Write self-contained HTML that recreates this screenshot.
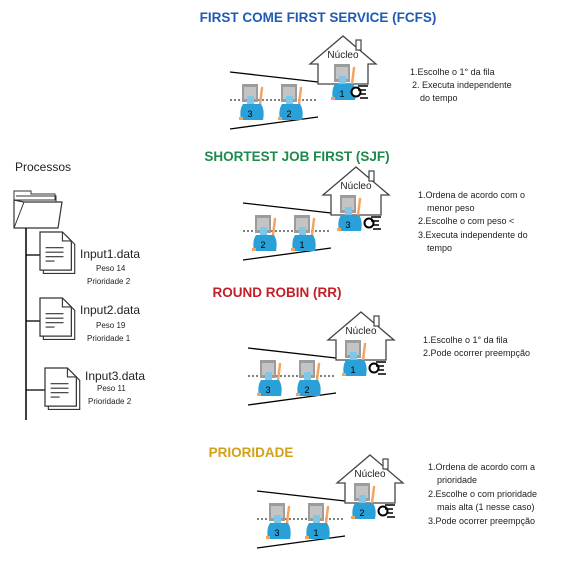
<!DOCTYPE html>
<html><head><meta charset="utf-8"><style>
body{margin:0;background:#fff}
svg{display:block}
text{font-family:"Liberation Sans","DejaVu Sans",sans-serif}
</style></head><body>
<svg width="569" height="562" viewBox="0 0 569 562" xmlns="http://www.w3.org/2000/svg">
<defs>
<g id="p">
 <path d="M19 20 l2 -16" stroke="#f4a460" stroke-width="2.5" stroke-linecap="round"/>
 <path d="M2 20 q-4 6 -2 16 h22 q2 -10 -2 -16z" fill="#2aa0d8"/>
 <rect x="1" y="0" width="16" height="18" fill="#9c9c9c"/>
 <rect x="3" y="3" width="12" height="12" fill="#c4c4c4"/>
 <rect x="6" y="12" width="7" height="8" fill="#7fc6e8"/>
 <rect x="-2" y="33" width="4" height="3" fill="#f4a460"/>
</g>
<g id="house">
 <path d="M0 28 L33 0 L66 28 L58 28 L58 48 L8 48 L8 28 Z" fill="#fff" stroke="#444" stroke-width="1.3"/>
 <rect x="46" y="4" width="5" height="10" fill="#fff" stroke="#444" stroke-width="1.2"/>
</g>
<g id="hand">
 <circle cx="4" cy="4" r="4.5" fill="#fff" stroke="#000" stroke-width="2"/>
 <path d="M6 -2 h10 M6 2 h8 M8 6 h6 M8 10 h8" stroke="#000" stroke-width="1.6"/>
</g>
<g id="doc">
 <path d="M3 3 h20 l8 8 v26 h-28z" fill="#fff" stroke="#333" stroke-width="1"/>
 <path d="M0 0 h20 l8 8 v26 h-28z" fill="#fff" stroke="#333" stroke-width="1.1"/>
 <path d="M20 0 v8 h8" fill="none" stroke="#333"/>
 <path d="M5 14 h16 M5 18 h16 M5 22 h16 M5 26 h8" stroke="#333" stroke-width="1"/>
</g>
</defs>

<!-- Left -->
<text x="15" y="171" font-size="12" fill="#222">Processos</text>
<path d="M14 191 h17 v3 h24 v6 h-41z" fill="#fff" stroke="#333"/>
<path d="M16 196 h40 v6" fill="none" stroke="#333"/>
<path d="M14 200 v28 h44 l4 -26 h-38 z" fill="#fff" stroke="#333" stroke-width="1.2"/>
<path d="M14 228 l10 -26" stroke="#333"/>
<line x1="26" y1="228" x2="26" y2="420" stroke="#000" stroke-width="1.5"/>
<line x1="26" y1="255" x2="40" y2="255" stroke="#000" stroke-width="1.3"/>
<line x1="26" y1="321" x2="40" y2="321" stroke="#000" stroke-width="1.3"/>
<line x1="26" y1="390" x2="45" y2="390" stroke="#000" stroke-width="1.3"/>
<use href="#doc" transform="translate(40,232) scale(1.12)"/>
<use href="#doc" transform="translate(40,298) scale(1.12)"/>
<use href="#doc" transform="translate(45,368) scale(1.12)"/>
<text x="80" y="258" font-size="12" fill="#222">Input1.data</text>
<text x="96" y="271" font-size="8" fill="#222">Peso 14</text>
<text x="87" y="284" font-size="8" fill="#222">Prioridade 2</text>
<text x="80" y="314" font-size="12" fill="#222">Input2.data</text>
<text x="96" y="328" font-size="8" fill="#222">Peso 19</text>
<text x="87" y="341" font-size="8" fill="#222">Prioridade 1</text>
<text x="85" y="380" font-size="12" fill="#222">Input3.data</text>
<text x="97" y="391" font-size="8" fill="#222">Peso 11</text>
<text x="88" y="404" font-size="8" fill="#222">Prioridade 2</text>

<!-- FCFS -->
<text x="318" y="22" font-size="13.5" font-weight="bold" fill="#1f5bb5" text-anchor="middle">FIRST COME FIRST SERVICE (FCFS)</text>
<g>
 <line x1="230" y1="72" x2="318" y2="82" stroke="#000" stroke-width="1.3"/>
 <line x1="230" y1="129" x2="318" y2="117" stroke="#000" stroke-width="1.3"/>
 <line x1="230" y1="100" x2="318" y2="100" stroke="#000" stroke-dasharray="2,2"/>
 <use href="#house" x="310" y="36"/>
 <text x="343" y="58" font-size="10" text-anchor="middle" fill="#222">Núcleo</text>
 <use href="#p" x="333" y="64"/><text x="342" y="97" font-size="9" text-anchor="middle">1</text>
 <use href="#p" x="241" y="84"/><text x="250" y="117" font-size="9" text-anchor="middle">3</text>
 <use href="#p" x="280" y="84"/><text x="289" y="117" font-size="9" text-anchor="middle">2</text>
 <use href="#hand" x="352" y="88"/>
 <text x="410" y="75" font-size="9" fill="#222">1.Escolhe o 1° da fila</text>
 <text x="412" y="88" font-size="9" fill="#222">2. Executa independente</text>
 <text x="420" y="101" font-size="9" fill="#222">do tempo</text>
</g>

<!-- SJF -->
<text x="297" y="161" font-size="13.5" font-weight="bold" fill="#1e8a4c" text-anchor="middle">SHORTEST JOB FIRST (SJF)</text>
<g transform="translate(13,131)">
 <line x1="230" y1="72" x2="318" y2="82" stroke="#000" stroke-width="1.3"/>
 <line x1="230" y1="129" x2="318" y2="117" stroke="#000" stroke-width="1.3"/>
 <line x1="230" y1="100" x2="318" y2="100" stroke="#000" stroke-dasharray="2,2"/>
 <use href="#house" x="310" y="36"/>
 <text x="343" y="58" font-size="10" text-anchor="middle" fill="#222">Núcleo</text>
 <use href="#p" x="326" y="64"/><text x="335" y="97" font-size="9" text-anchor="middle">3</text>
 <use href="#p" x="241" y="84"/><text x="250" y="117" font-size="9" text-anchor="middle">2</text>
 <use href="#p" x="280" y="84"/><text x="289" y="117" font-size="9" text-anchor="middle">1</text>
 <use href="#hand" x="352" y="88"/>
</g>
<text x="418" y="198" font-size="9" fill="#222">1.Ordena de acordo com o</text>
<text x="427" y="211" font-size="9" fill="#222">menor peso</text>
<text x="418" y="224" font-size="9" fill="#222">2.Escolhe o com peso &lt;</text>
<text x="418" y="238" font-size="9" fill="#222">3.Executa independente do</text>
<text x="427" y="251" font-size="9" fill="#222">tempo</text>

<!-- RR -->
<text x="277" y="297" font-size="13.5" font-weight="bold" fill="#c0202a" text-anchor="middle">ROUND ROBIN (RR)</text>
<g transform="translate(18,276)">
 <line x1="230" y1="72" x2="318" y2="82" stroke="#000" stroke-width="1.3"/>
 <line x1="230" y1="129" x2="318" y2="117" stroke="#000" stroke-width="1.3"/>
 <line x1="230" y1="100" x2="318" y2="100" stroke="#000" stroke-dasharray="2,2"/>
 <use href="#house" x="310" y="36"/>
 <text x="343" y="58" font-size="10" text-anchor="middle" fill="#222">Núcleo</text>
 <use href="#p" x="326" y="64"/><text x="335" y="97" font-size="9" text-anchor="middle">1</text>
 <use href="#p" x="241" y="84"/><text x="250" y="117" font-size="9" text-anchor="middle">3</text>
 <use href="#p" x="280" y="84"/><text x="289" y="117" font-size="9" text-anchor="middle">2</text>
 <use href="#hand" x="352" y="88"/>
</g>
<text x="423" y="343" font-size="9" fill="#222">1.Escolhe o 1° da fila</text>
<text x="423" y="356" font-size="9" fill="#222">2.Pode ocorrer preempção</text>

<!-- PRIORIDADE -->
<text x="251" y="457" font-size="13.5" font-weight="bold" fill="#d4a017" text-anchor="middle">PRIORIDADE</text>
<g transform="translate(27,419)">
 <line x1="230" y1="72" x2="318" y2="82" stroke="#000" stroke-width="1.3"/>
 <line x1="230" y1="129" x2="318" y2="117" stroke="#000" stroke-width="1.3"/>
 <line x1="230" y1="100" x2="318" y2="100" stroke="#000" stroke-dasharray="2,2"/>
 <use href="#house" x="310" y="36"/>
 <text x="343" y="58" font-size="10" text-anchor="middle" fill="#222">Núcleo</text>
 <use href="#p" x="326" y="64"/><text x="335" y="97" font-size="9" text-anchor="middle">2</text>
 <use href="#p" x="241" y="84"/><text x="250" y="117" font-size="9" text-anchor="middle">3</text>
 <use href="#p" x="280" y="84"/><text x="289" y="117" font-size="9" text-anchor="middle">1</text>
 <use href="#hand" x="352" y="88"/>
</g>
<text x="428" y="470" font-size="9" fill="#222">1.Ordena de acordo com a</text>
<text x="437" y="483" font-size="9" fill="#222">prioridade</text>
<text x="428" y="497" font-size="9" fill="#222">2.Escolhe o com prioridade</text>
<text x="437" y="510" font-size="9" fill="#222">mais alta (1 nesse caso)</text>
<text x="428" y="524" font-size="9" fill="#222">3.Pode ocorrer preempção</text>
</svg>
</body></html>
